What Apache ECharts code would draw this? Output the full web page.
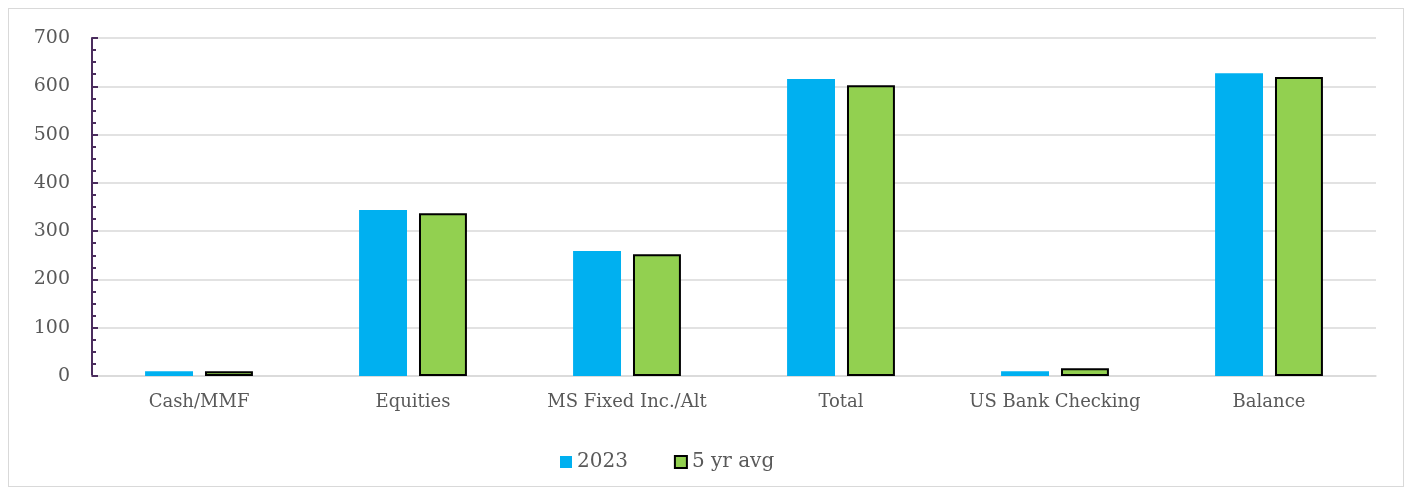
<!DOCTYPE html>
<html><head><meta charset="utf-8">
<script src="https://cdn.jsdelivr.net/npm/echarts@6/dist/echarts.min.js"></script>
<style>html,body{margin:0;padding:0;background:#fff}#frame{position:absolute;left:8px;top:8px;width:1396px;height:479px;border:1px solid #d9d9d9;box-sizing:border-box}#c{position:absolute;left:0;top:0;width:1413px;height:490px}</style>
</head><body><div id="frame"></div><div id="c"></div>
<script>
const categories = ['Cash/MMF','Equities','MS Fixed Inc./Alt','Total','US Bank Checking','Balance'];
const values2023 = [10, 344, 259, 615, 10, 627];
const values5yr = [10, 337, 252, 602, 16, 619];
const seriesNames = ['2023','5 yr avg'];
const font = 'DejaVu Serif';
const chart = echarts.init(document.getElementById('c'));
chart.setOption({
  animation:false,
  textStyle:{fontFamily:font},
  grid:{left:92,right:37,top:38,bottom:114},
  legend:{top:447,left:555,itemWidth:12,itemHeight:12,itemGap:46,
    textStyle:{fontFamily:font,fontSize:20,color:'#595959'},
    data:[{name:seriesNames[0],icon:'rect'},{name:seriesNames[1],icon:'rect'}]},
  xAxis:{type:'category',data:categories,
    axisLine:{lineStyle:{color:'#d9d9d9',width:1.5}},axisTick:{show:false},
    axisLabel:{interval:0,fontFamily:font,fontSize:18,color:'#595959',margin:17}},
  yAxis:{type:'value',min:0,max:700,interval:100,
    axisLine:{show:true,lineStyle:{color:'#4b2d5e',width:2}},
    axisTick:{show:true,inside:true,length:6,lineStyle:{color:'#4b2d5e',width:2}},
    minorTick:{show:true,splitNumber:4,length:4,lineStyle:{color:'#4b2d5e',width:2}},
    splitLine:{lineStyle:{color:'#d9d9d9',width:1.5}},
    axisLabel:{fontFamily:font,fontSize:19,color:'#595959',margin:22}},
  series:[
    {name:seriesNames[0],type:'bar',data:values2023,barWidth:'22.4%',barGap:'25%',
      itemStyle:{color:'#00b0f0'}},
    {name:seriesNames[1],type:'bar',data:values5yr,barWidth:'22.4%',
      itemStyle:{color:'#92d050',borderColor:'#000',borderWidth:2}}
  ]
});
</script></body></html>
